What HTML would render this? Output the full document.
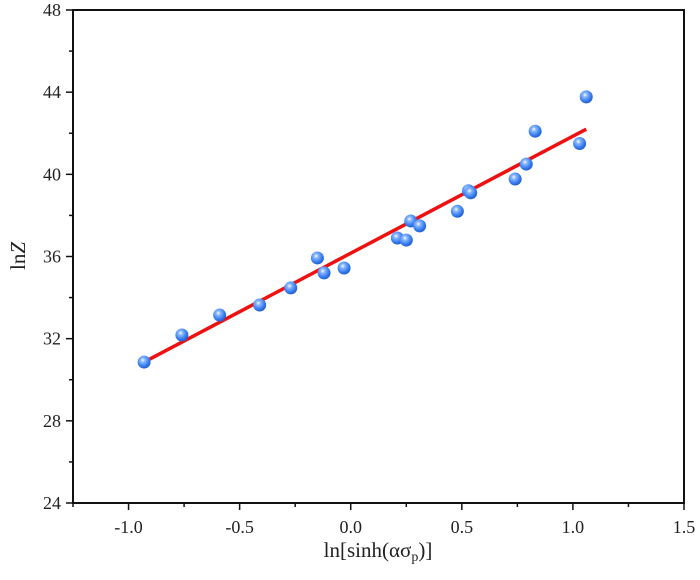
<!DOCTYPE html>
<html><head><meta charset="utf-8"><style>
body{margin:0;background:#fff;}
svg text{font-family:"Liberation Serif",serif;fill:#222;}
</style></head><body>
<svg id="chart" width="700" height="575" xmlns="http://www.w3.org/2000/svg">
<defs>
<radialGradient id="ball" cx="0.4" cy="0.35" r="0.65">
<stop offset="0" stop-color="#ffffff"/><stop offset="0.25" stop-color="#8ab8ff"/><stop offset="0.7" stop-color="#3a7ef0"/><stop offset="1" stop-color="#1f5fd0"/>
</radialGradient>
</defs>
<g id="marks"></g>
<g id="axes"></g>
</svg>
<script>
const xs=[-0.93,-0.76,-0.59,-0.41,-0.27,-0.15,-0.12,-0.03,0.21,0.25,0.27,0.31,0.48,0.53,0.54,0.74,0.79,0.83,1.03,1.06];
const ys=[30.86,32.18,33.15,33.64,34.47,35.93,35.2,35.44,36.9,36.8,37.73,37.49,38.2,39.2,39.1,39.77,40.5,42.1,41.5,43.77];
const fitX=[-0.93,1.06];
const fitY=[30.86,42.2];
const xTicks=[-1.0,-0.5,0.0,0.5,1.0,1.5];
const xTickLabels=["-1.0","-0.5","0.0","0.5","1.0","1.5"];
const yTicks=[24,28,32,36,40,44,48];
const yTickLabels=["24","28","32","36","40","44","48"];
const L=73,R=684,T=10,B=503,x0=-1.25,x1=1.5,y0=24,y1=48;
const sx=v=>L+(v-x0)/(x1-x0)*(R-L);
const sy=v=>B-(v-y0)/(y1-y0)*(B-T);
const NS="http://www.w3.org/2000/svg";
function mk(tag,attrs,parent,text){const e=document.createElementNS(NS,tag);for(const k in attrs)e.setAttribute(k,attrs[k]);if(text!==undefined)e.textContent=text;parent.appendChild(e);return e;}
const marks=document.getElementById('marks'),axes=document.getElementById('axes');
let e=mk('rect',{x:L,y:T,width:R-L,height:B-T,fill:'none',stroke:'#111','stroke-width':2},axes);


for(let i=0;i<xTicks.length;i++){
 const x=sx(xTicks[i]);
 e=mk('line',{x1:x,x2:x,y1:B,y2:B+7,stroke:'#111','stroke-width':1.5},axes);
 
 
 e=mk('text',{x:x,y:B+30,'text-anchor':'middle','font-size':18},axes,xTickLabels[i]);
 
 
}
for(let v=-1.25;v<=1.5;v+=0.5){const x=sx(v);
 e=mk('line',{x1:x,x2:x,y1:B,y2:B+4,stroke:'#111','stroke-width':1.5},axes);
 
 }
for(let i=0;i<yTicks.length;i++){
 const y=sy(yTicks[i]);
 e=mk('line',{x1:L-7,x2:L,y1:y,y2:y,stroke:'#111','stroke-width':1.5},axes);
 
 
 e=mk('text',{x:L-12,y:y+6,'text-anchor':'end','font-size':18},axes,yTickLabels[i]);
 
 
}
for(let v=26;v<48;v+=4){const y=sy(v);
 e=mk('line',{x1:L-4,x2:L,y1:y,y2:y,stroke:'#111','stroke-width':1.5},axes);
 
 }
e=mk('text',{x:378,y:557,'text-anchor':'middle','font-size':21},axes,'ln[sinh(ασ');


mk('tspan',{'font-size':14,dy:4},e,'p');
mk('tspan',{'font-size':21,dy:-4},e,')]');
e=mk('text',{transform:'translate(25,256) rotate(-90)','text-anchor':'middle','font-size':21},axes,'ln');


mk('tspan',{'font-style':'italic'},e,'Z');
e=mk('line',{x1:sx(fitX[0]),y1:sy(fitY[0]),x2:sx(fitX[1]),y2:sy(fitY[1]),stroke:'#ee1111','stroke-width':3.5},marks);


for(let i=0;i<xs.length;i++){
 e=mk('circle',{cx:sx(xs[i]),cy:sy(ys[i]),r:6.5,fill:'url(#ball)'},marks);
 
 
}
</script>
</body></html>
